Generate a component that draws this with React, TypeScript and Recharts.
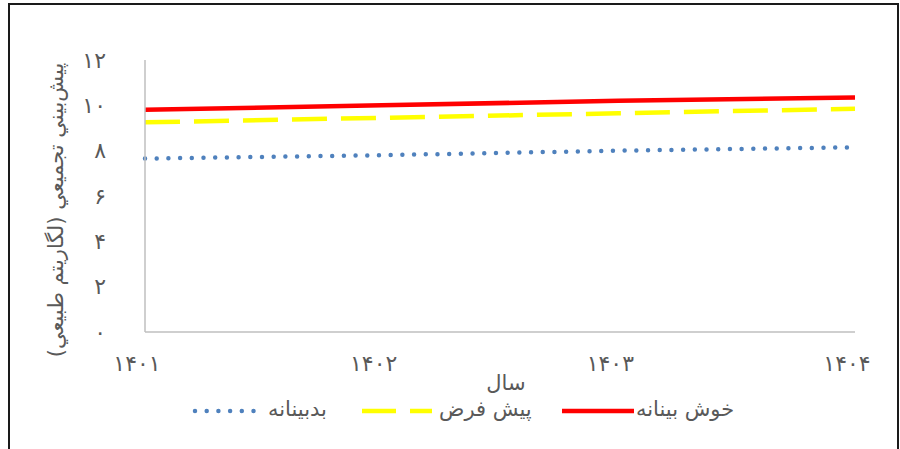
import { LineChart, Line, XAxis, YAxis } from 'recharts'

const years = ['۱۴۰۱', '۱۴۰۲', '۱۴۰۳', '۱۴۰۴']
const optimistic = [9.8, 10.0, 10.2, 10.35]
const baseline = [9.25, 9.45, 9.65, 9.85]
const pessimistic = [7.65, 7.8, 8.0, 8.15]
const yTicks = [0, 2, 4, 6, 8, 10, 12]

const seriesNames = {
  optimistic: 'خوش بينانه',
  baseline: 'پيش فرض',
  pessimistic: 'بدبينانه',
}

const data = years.map((year, i) => ({
  year,
  optimistic: optimistic[i],
  baseline: baseline[i],
  pessimistic: pessimistic[i],
}))

const FONT = '"DejaVu Sans", "Liberation Sans", sans-serif'
const TEXT = '#595959'
const RED = '#FF0000'
const YELLOW = '#FFFF00'
const BLUE = '#4F81BD'

const toPersian = (n: number) =>
  String(n).replace(/\d/g, (d) => '۰۱۲۳۴۵۶۷۸۹'[Number(d)])

function LegendItem({ name, color, left, symW, textLeft, dash, cap }: {
  name: string
  color: string
  left: number
  symW: number
  textLeft: number
  dash?: string
  cap?: 'round' | 'butt'
}) {
  const inset = cap === 'round' ? 3 : 0
  return (
    <>
      <svg width={symW} height={10} style={{ position: 'absolute', left, top: 406 }}>
        <line
          x1={inset}
          x2={symW - inset}
          y1={5}
          y2={5}
          stroke={color}
          strokeWidth={4.5}
          strokeDasharray={dash}
          strokeLinecap={cap || 'butt'}
        />
      </svg>
      <span style={{ position: 'absolute', left: textLeft, top: 397, whiteSpace: 'nowrap' }}>{name}</span>
    </>
  )
}

export default function App() {
  return (
    <div style={{ position: 'absolute', left: 0, top: 0, width: 900, height: 449, overflow: 'hidden', background: '#fff' }}>
      <div
        style={{
          position: 'absolute',
          left: 8,
          top: 3,
          width: 891,
          height: 470,
          boxSizing: 'border-box',
          border: '2px solid #1a1a1a',
        }}
      />
      <div style={{ position: 'absolute', left: 0, top: 0 }}>
        <LineChart width={900} height={449} data={data} margin={{ top: 60, right: 45, bottom: 87, left: 0 }}>
          <XAxis
            dataKey="year"
            height={30}
            padding={{ left: 0, right: 0 }}
            axisLine={{ stroke: '#BFBFBF', strokeWidth: 1.5 }}
            tickLine={false}
            tickMargin={17}
            interval={0}
            tick={(p: any) => (
              <text x={p.x - 8} y={p.y} dy="0.71em" textAnchor="middle" fill={TEXT} fontSize={22} letterSpacing={2.5} fontFamily={FONT}>
                {p.payload.value}
              </text>
            )}
            label={{
              content: (p: any) => {
                const vb = p.viewBox
                return (
                  <text x={vb.x + vb.width / 2 + 6} y={390} textAnchor="middle" fill={TEXT} fontSize={21} fontFamily={FONT} direction="rtl">
                    سال
                  </text>
                )
              },
            }}
          />
          <YAxis
            width={145}
            domain={[0, 12]}
            ticks={yTicks}
            interval={0}
            axisLine={{ stroke: '#BFBFBF', strokeWidth: 1.5 }}
            tickLine={false}
            tickMargin={33}
            tickFormatter={(v: number) => toPersian(v)}
            tick={{ fill: TEXT, fontSize: 22, fontFamily: FONT, letterSpacing: 2 }}
            label={{
              content: () => (
                <text
                  x={56}
                  y={210}
                  transform="rotate(-90 56 210)"
                  textAnchor="middle"
                  dominantBaseline="central"
                  fill={TEXT}
                  fontSize={21}
                  fontFamily={FONT}
                  direction="rtl"
                >
                  پيش‌بيني تجميعي (لگاريتم طبيعي)
                </text>
              ),
            }}
          />
          <Line
            dataKey="pessimistic"
            name={seriesNames.pessimistic}
            stroke={BLUE}
            strokeWidth={4.5}
            strokeDasharray="0 11.7"
            strokeLinecap="round"
            dot={false}
            isAnimationActive={false}
          />
          <Line
            dataKey="baseline"
            name={seriesNames.baseline}
            stroke={YELLOW}
            strokeWidth={4.5}
            strokeDasharray="35 14"
            dot={false}
            isAnimationActive={false}
          />
          <Line
            dataKey="optimistic"
            name={seriesNames.optimistic}
            stroke={RED}
            strokeWidth={4.5}
            dot={false}
            isAnimationActive={false}
          />
        </LineChart>
      </div>
      <div style={{ position: 'absolute', left: 0, top: 0, fontFamily: FONT, fontSize: 21, color: TEXT }}>
        <LegendItem name={seriesNames.pessimistic} color={BLUE} left={192} symW={68} textLeft={268} dash="0 11.7" cap="round" />
        <LegendItem name={seriesNames.baseline} color={YELLOW} left={362} symW={70} textLeft={439} dash="34 14" />
        <LegendItem name={seriesNames.optimistic} color={RED} left={562} symW={72} textLeft={636} />
      </div>
    </div>
  )
}
